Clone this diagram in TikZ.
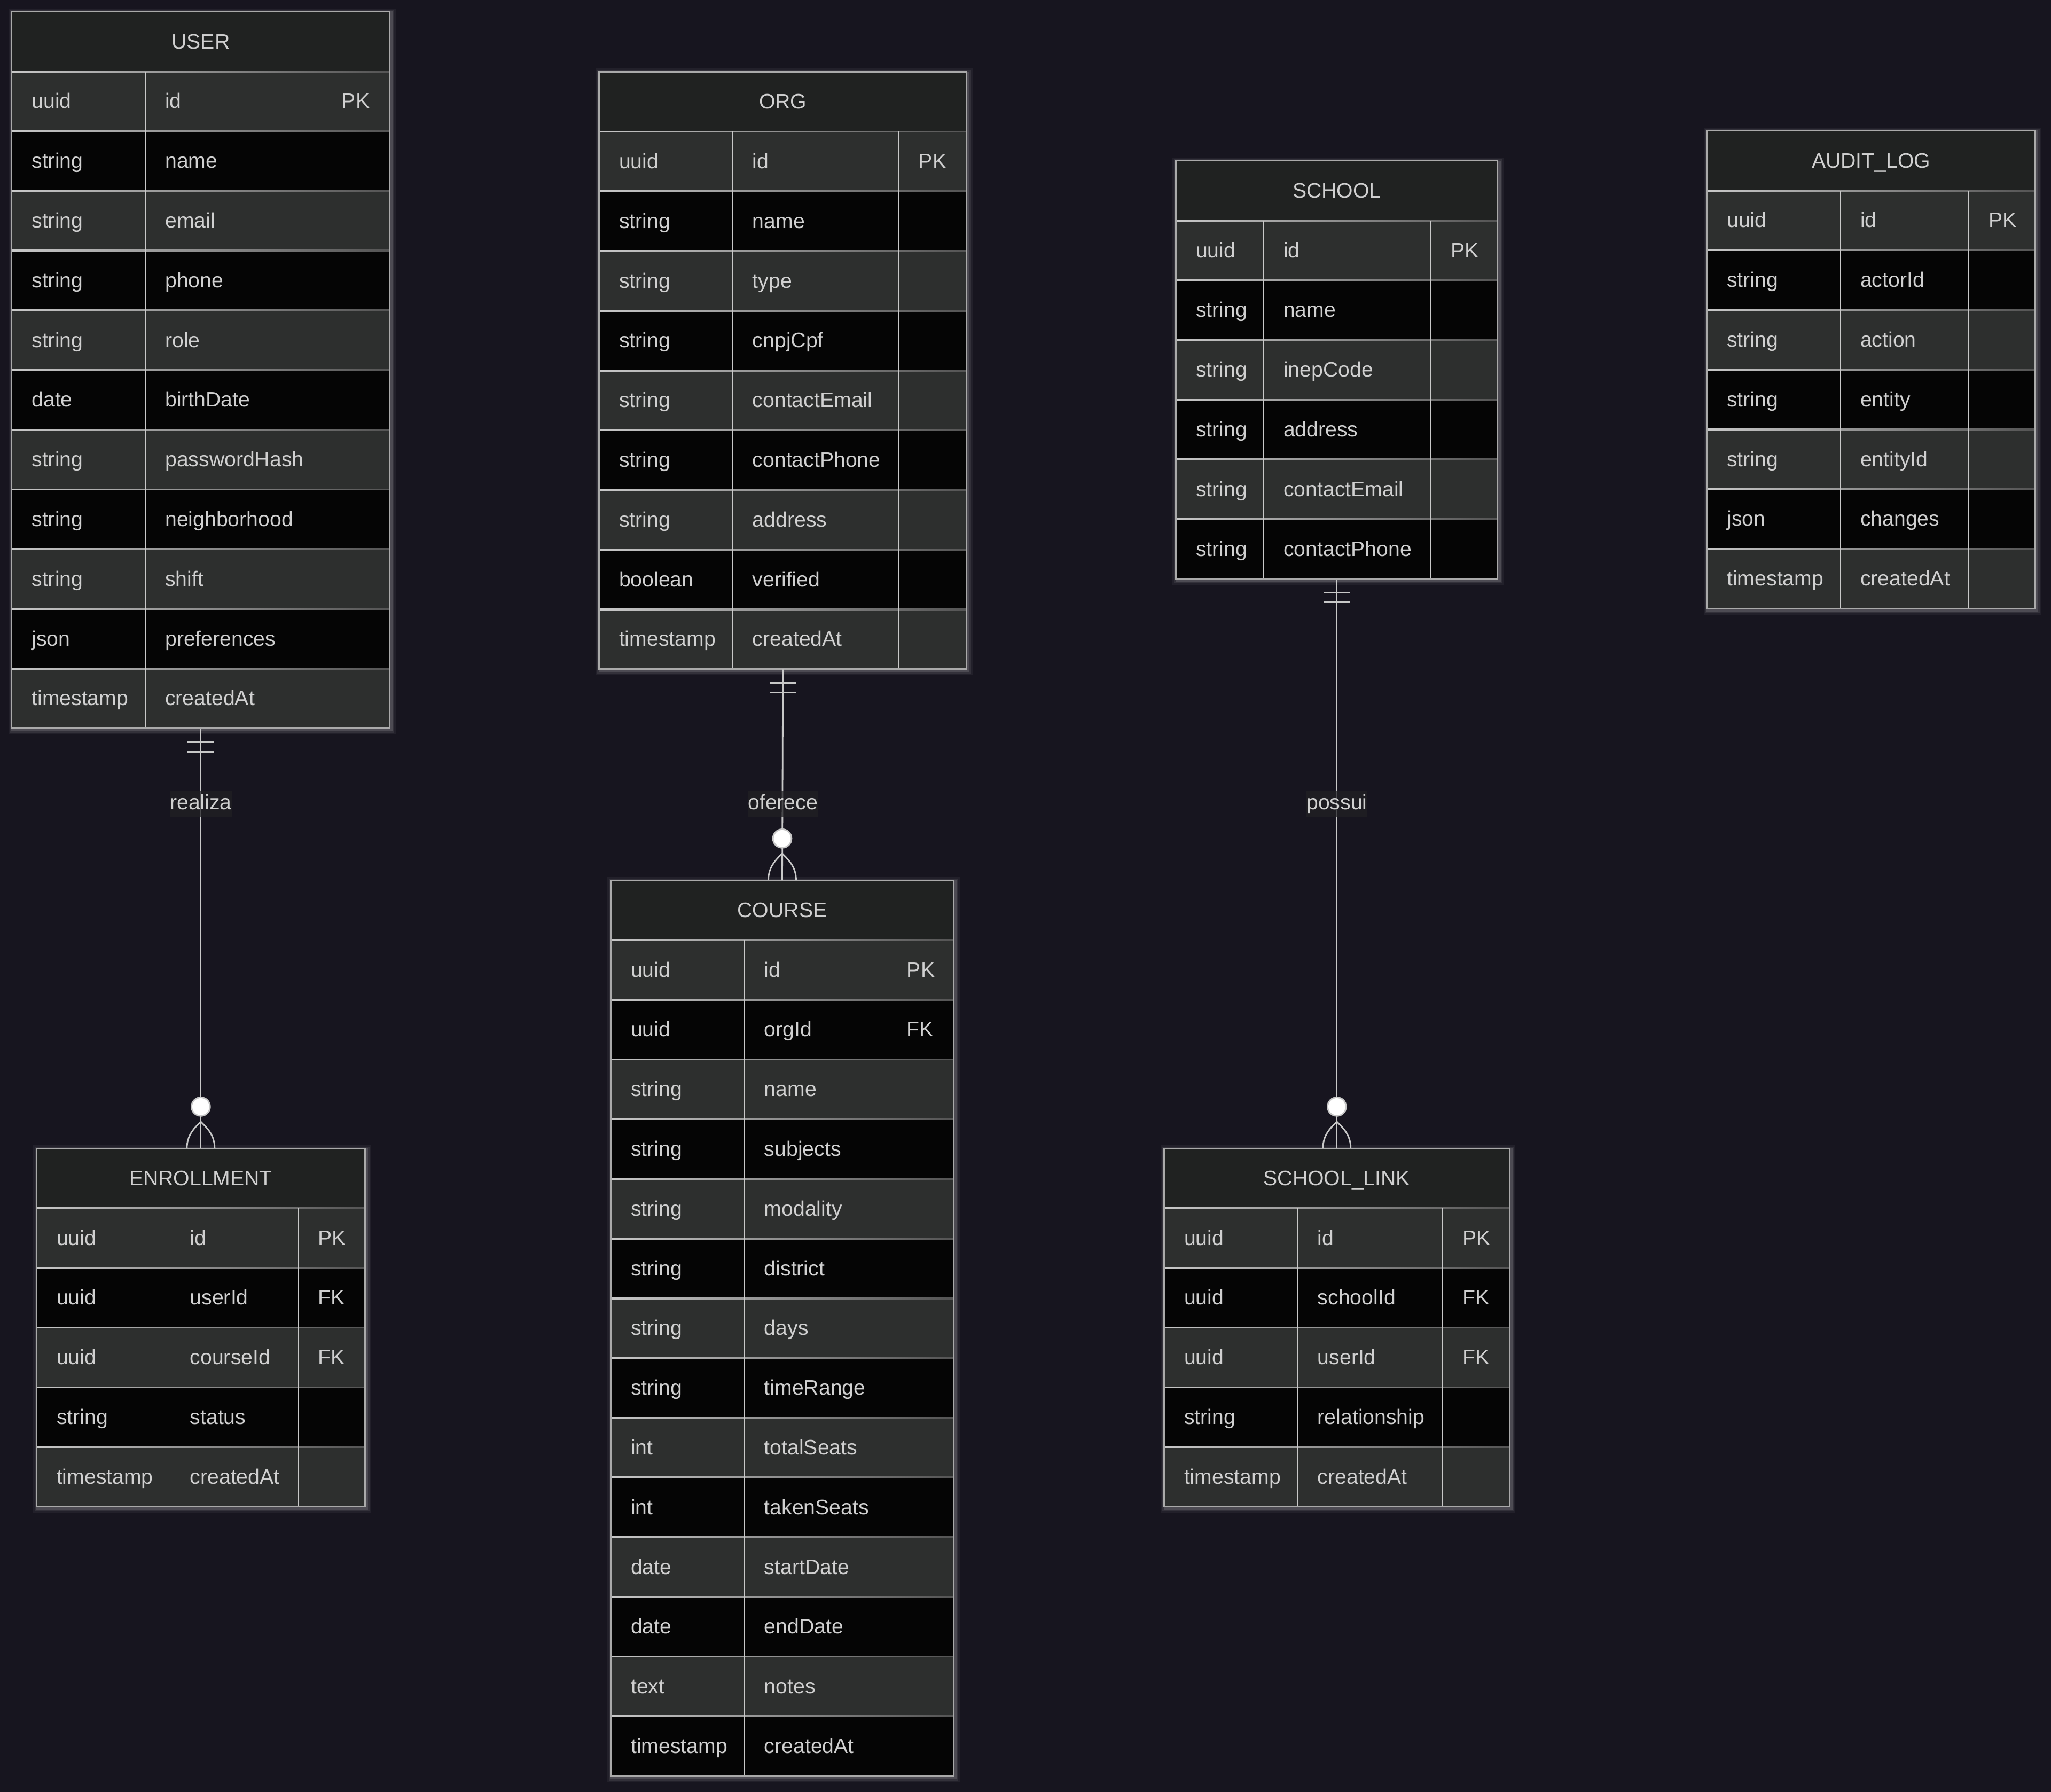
\documentclass[tikz,border=0pt]{standalone}
\usepackage{fontspec}
\setmainfont{Liberation Sans}
\usetikzlibrary{fit,calc}

\definecolor{bgcol}{RGB}{23,21,31}
\definecolor{hdrbg}{RGB}{32,34,33}
\definecolor{rowodd}{RGB}{45,47,46}
\definecolor{roweven}{RGB}{5,5,5}
\definecolor{txtcol}{RGB}{208,208,208}
\definecolor{linelt}{RGB}{200,200,200}
\definecolor{linedk}{RGB}{84,84,84}
\definecolor{lblbg}{RGB}{33,32,36}

\newcommand{\erfont}{\fontsize{11.15pt}{13pt}\selectfont}
\def\rowh{45.65}
\def\nokey{-}

\tikzset{
  celltext/.style={text=txtcol, font=\erfont, inner sep=0pt, anchor=base west},
  titletext/.style={celltext, anchor=base},
  colline/.style={draw=linelt, line width=0.45pt},
  tblborder/.style={draw=linelt!85!black, line width=0.7pt},
  relline/.style={draw=linelt, line width=0.8pt},
  rellabel/.style={text=txtcol, font=\erfont, fill=lblbg, fill opacity=0.75, text opacity=1,
    inner xsep=0pt, inner ysep=2.3pt, text height=8pt, text depth=1.8pt},
  pics/onlyone/.style={code={
    \draw[relline] (-10.2,10.2) -- (10.2,10.2);
    \draw[relline] (-10.2,17.5) -- (10.2,17.5);
  }},
  pics/zeromany/.style={code={
    \draw[relline] (0,-20.2) .. controls (6,-14.5) and (10.6,-9) .. (10.6,0);
    \draw[relline] (0,-20.2) .. controls (-6,-14.5) and (-10.6,-9) .. (-10.6,0);
    \draw[relline, fill=white] (0,-31.7) circle (7.1);
  }},
}

% #1 name, #2 title, #3 x, #4 y, #5-#7 column widths, #8 rows
\newcommand{\ertable}[8]{%
  \begin{scope}[shift={(#3,#4)}]
    \pgfmathsetmacro{\colb}{#5}
    \pgfmathsetmacro{\colc}{#5+#6}
    \pgfmathsetmacro{\tblw}{#5+#6+#7}
    \foreach \ty/\nm/\ky [count=\i] in {#8} {\xdef\nrows{\i}}
    \pgfmathsetmacro{\tblh}{(\nrows+1)*\rowh}
    %% glow
    \foreach \g/\o in {5/0.05, 3.4/0.08, 1.8/0.13}
      \draw[white, opacity=\o, line width=\g pt] (1,1) rectangle (\tblw+1,\tblh+1);
    %% header
    \fill[hdrbg] (0,0) rectangle (\tblw,\rowh);
    \node[titletext] (#1-title) at (\tblw/2,\rowh/2+5.4) {#2};
    %% rows
    \foreach \ty/\nm/\ky [count=\i] in {#8} {
      \pgfmathsetmacro{\ytop}{\i*\rowh}
      \ifodd\i\relax \def\rowcol{rowodd}\else \def\rowcol{roweven}\fi
      \fill[\rowcol] (0,\ytop) rectangle (\tblw,\ytop+\rowh);
      \node[celltext] (#1-t\i) at (15,\ytop+\rowh/2+5.4) {\ty};
      \node[celltext] (#1-n\i) at (\colb+15,\ytop+\rowh/2+5.4) {\nm};
      \ifx\ky\nokey\else
        \node[celltext] (#1-k\i) at (\colc+15,\ytop+\rowh/2+5.4) {\ky};
      \fi
    }
    %% separators
    \foreach \j in {1,...,\nrows} {
      \pgfmathsetmacro{\ysep}{\j*\rowh}
      \shade[left color=linelt, right color=linedk] (0,\ysep-0.55) rectangle (\tblw,\ysep+0.55);
    }
    \draw[colline] (\colb,\rowh) -- (\colb,\tblh);
    \draw[colline] (\colc,\rowh) -- (\colc,\tblh);
    \draw[tblborder] (0,0) rectangle (\tblw,\tblh);
    \node[fit={(0,0) (\tblw,\tblh)}, inner sep=0pt] (#1) {};
  \end{scope}
}

\begin{document}
\begin{tikzpicture}[x=0.02449cm, y=-0.02449cm]
  \useasboundingbox (0,0) rectangle (1568,1369.6);
  \fill[bgcol] (-10,-10) rectangle (1578,1380);

  %% Entities
  \ertable{user}{USER}{9}{9}{102}{135}{52}{uuid/id/PK, string/name/-, string/email/-,
    string/phone/-, string/role/-, date/birthDate/-, string/passwordHash/-,
    string/neighborhood/-, string/shift/-, json/preferences/-, timestamp/createdAt/-}
  \ertable{org}{ORG}{458}{55}{102}{127}{52}{uuid/id/PK, string/name/-, string/type/-,
    string/cnpjCpf/-, string/contactEmail/-, string/contactPhone/-, string/address/-,
    boolean/verified/-, timestamp/createdAt/-}
  \ertable{school}{SCHOOL}{899}{123}{67}{128}{51}{uuid/id/PK, string/name/-,
    string/inepCode/-, string/address/-, string/contactEmail/-, string/contactPhone/-}
  \ertable{auditlog}{AUDIT\_LOG}{1305}{100}{102}{98}{51}{uuid/id/PK, string/actorId/-,
    string/action/-, string/entity/-, string/entityId/-, json/changes/-, timestamp/createdAt/-}
  \ertable{course}{COURSE}{467}{673}{102}{109}{51}{uuid/id/PK, uuid/orgId/FK, string/name/-,
    string/subjects/-, string/modality/-, string/district/-, string/days/-,
    string/timeRange/-, int/totalSeats/-, int/takenSeats/-, date/startDate/-,
    date/endDate/-, text/notes/-, timestamp/createdAt/-}
  \ertable{enrollment}{ENROLLMENT}{28}{878}{102}{98}{51}{uuid/id/PK, uuid/userId/FK,
    uuid/courseId/FK, string/status/-, timestamp/createdAt/-}
  \ertable{schoollink}{SCHOOL\_LINK}{890}{878}{102}{111}{51}{uuid/id/PK, uuid/schoolId/FK,
    uuid/userId/FK, string/relationship/-, timestamp/createdAt/-}

  %% Relations
  \coordinate (lblrow) at (0,614.5);
  \draw[relline] (user.south) -- (enrollment.north);
  \node[rellabel] (realiza) at (user.south |- lblrow) {realiza};
  \pic at (user.south) {onlyone};
  \pic at (enrollment.north) {zeromany};

  \draw[relline] (org.south) -- (course.north);
  \node[rellabel] (oferece) at (org.south |- lblrow) {oferece};
  \pic at (org.south) {onlyone};
  \pic at (course.north) {zeromany};

  \draw[relline] (school.south) -- (schoollink.north);
  \node[rellabel] (possui) at (school.south |- lblrow) {possui};
  \pic at (school.south) {onlyone};
  \pic at (schoollink.north) {zeromany};
\end{tikzpicture}
\end{document}
